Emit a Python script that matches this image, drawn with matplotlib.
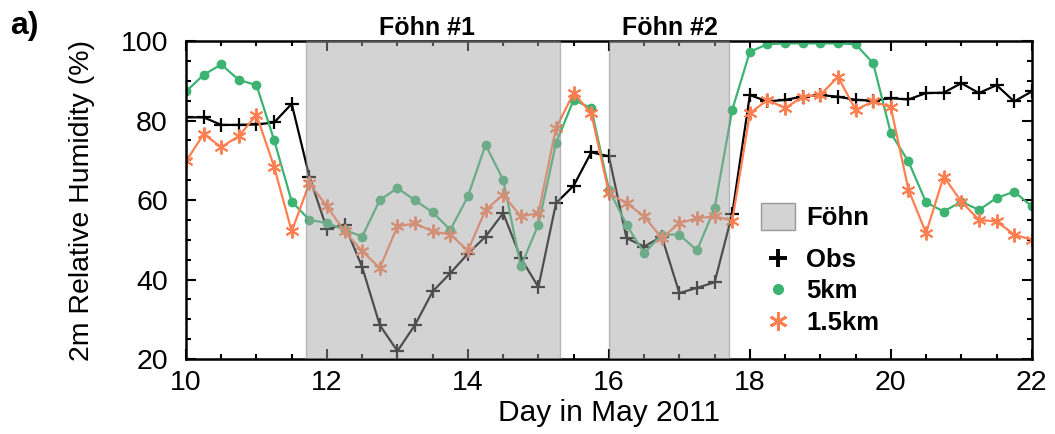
import numpy as np
import matplotlib
matplotlib.use("Agg")
import matplotlib.pyplot as plt
from matplotlib.patches import Patch
from matplotlib.lines import Line2D
from matplotlib.ticker import MultipleLocator

plt.rcParams["font.family"] = ["Liberation Sans", "DejaVu Sans"]

# ── Data: 6-hourly values, 10 May 00 UTC to 22 May 00 UTC ─────────
days = np.arange(10.0, 22.001, 0.25)

obs = [80.8, 80.8, 78.9, 78.9, 79.0, 79.5, 84.2, 65.9,
       52.7, 53.8, 43.1, 28.5, 22.0, 28.6, 37.0, 41.6,
       46.5, 50.8, 56.7, 45.4, 38.1, 59.2, 63.6, 72.0,
       71.0, 50.4, 48.3, 50.8, 36.6, 37.9, 39.3, 56.5,
       86.4, 84.8, 85.2, 86.0, 86.4, 86.0, 85.2, 85.0,
       85.6, 85.3, 86.9, 87.0, 89.4, 86.9, 88.9, 84.8, 87.3]

km5 = [87.3, 91.5, 94.1, 90.2, 88.9, 75.1, 59.6, 55.0,
       54.2, 52.5, 50.8, 60.0, 63.0, 59.9, 56.9, 52.5,
       60.9, 73.9, 65.1, 43.3, 53.8, 74.3, 85.2, 83.1,
       62.6, 53.8, 46.6, 51.3, 51.3, 47.3, 58.0, 82.7,
       97.3, 99.2, 99.4, 99.4, 99.4, 99.4, 99.2, 94.4,
       76.8, 69.7, 59.4, 57.1, 59.6, 57.5, 60.5, 62.1, 58.4]

km1p5 = [69.7, 76.6, 73.3, 76.1, 81.4, 68.4, 52.1, 64.2,
         58.4, 52.1, 47.1, 42.9, 53.4, 54.1, 52.1, 51.3,
         47.3, 57.5, 61.3, 55.9, 56.7, 78.1, 86.9, 81.8,
         61.7, 59.2, 55.9, 50.4, 54.2, 55.4, 55.9, 54.8,
         81.8, 85.2, 83.1, 86.0, 86.4, 91.0, 82.7, 84.8,
         83.3, 62.6, 51.7, 65.9, 59.6, 55.0, 54.6, 51.3, 50.0]

foehn_periods = [(11.7, 15.3), (16.0, 17.7)]
foehn_labels = ["Föhn #1", "Föhn #2"]
foehn_label_x = [13.42, 16.86]

# ── Colours ──────────────────────────────────────────────────────
GREEN = "#3cb371"
CORAL = "#ff7f50"
SHADE = "#a4a4a4"
ASTERISK = (6, 2, 0)

fig = plt.figure(figsize=(10.55, 4.34), dpi=100, facecolor="white")
ax = fig.add_axes([0.1763, 0.1728, 0.8017, 0.7327])

ax.plot(days, obs, color="black", lw=1.6, marker="+", ms=10, mew=1.6, zorder=2)
ax.plot(days, km5, color=GREEN, lw=1.6, marker="o", ms=6, zorder=2)
ax.plot(days, km1p5, color=CORAL, lw=1.6, marker=ASTERISK, ms=10, mew=1.4,
        zorder=2)

# shading laid over the lines, so the lines look muted inside the events
for (d0, d1), lab, lx in zip(foehn_periods, foehn_labels, foehn_label_x):
    ax.axvspan(d0, d1, facecolor=SHADE, alpha=0.48, edgecolor="#808080",
               lw=1.0, zorder=3)
    ax.text(lx, 1.02, lab, transform=ax.get_xaxis_transform(),
            ha="center", va="baseline", fontsize=18, weight="bold")

ax.set_xlim(10, 22)
ax.set_ylim(20, 100)
ax.xaxis.set_major_locator(MultipleLocator(2))
ax.xaxis.set_minor_locator(MultipleLocator(0.5))
ax.yaxis.set_major_locator(MultipleLocator(20))
ax.yaxis.set_minor_locator(MultipleLocator(5))
ax.tick_params(which="both", direction="in", top=True, right=True, width=1.5)
ax.tick_params(which="major", length=7, labelsize=20.5)
ax.tick_params(axis="x", which="major", pad=8)
ax.tick_params(axis="y", which="major", pad=13)
ax.tick_params(which="minor", length=3.5)
for s in ax.spines.values():
    s.set_linewidth(1.8)

ax.set_xlabel("Day in May 2011", fontsize=21.5, labelpad=2)
ax.set_ylabel("2m Relative Humidity (%)", fontsize=20.5, labelpad=18)

# two legends: the shaded-box row is taller than the marker rows
leg1 = ax.legend([Patch(facecolor="#d3d3d3", edgecolor="#9a9a9a", lw=1.0)],
                 ["Föhn"], loc="upper left", bbox_to_anchor=(0.68, 0.49),
                 frameon=False, prop={"size": 18.5, "weight": "bold"},
                 handlelength=1.3, handleheight=1.25, handletextpad=0.45,
                 borderaxespad=0, borderpad=0)
ax.add_artist(leg1)

marker_handles = [
    Line2D([], [], color="black", ls="none", marker="+", ms=13, mew=2.8),
    Line2D([], [], color=GREEN, ls="none", marker="o", ms=7),
    Line2D([], [], color=CORAL, ls="none", marker=ASTERISK, ms=13, mew=2.0),
]
ax.legend(marker_handles, ["Obs", "5km", "1.5km"],
          loc="upper left", bbox_to_anchor=(0.68, 0.35), frameon=False,
          prop={"size": 18.5, "weight": "bold"}, handlelength=1.3,
          handletextpad=0.45, labelspacing=0.3, borderaxespad=0, borderpad=0)

fig.text(0.01, 0.94, "a)", fontsize=23, weight="bold", ha="left", va="center")

fig.savefig("out.png", dpi=100, facecolor="white")
